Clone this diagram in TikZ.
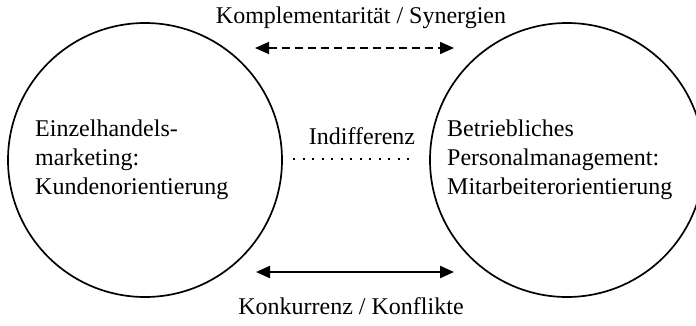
\documentclass[tikz,border=0pt]{standalone}
\usepackage{fontspec}
\setmainfont{Liberation Serif}
\usetikzlibrary{arrows.meta}
\begin{document}
\begin{tikzpicture}[x=1pt,y=-1pt,
  ring/.style={circle,draw,line width=1.7pt,minimum size=274pt,inner sep=0pt},
  lbl/.style={font=\fontsize{24}{29}\selectfont,inner sep=0pt,align=left},
  dbltip/.style={{Triangle[length=14pt,width=12pt]}-{Triangle[length=14pt,width=12pt]}}]
\useasboundingbox (0,0) rectangle (696,325);
\node[ring] (L) at (145,160) {};
\node[ring] (R) at (567,160) {};
\node[lbl,anchor=west] (Ltext) at (35,160) {Einzelhandels-\\marketing:\\Kundenorientierung};
\node[lbl,anchor=west] (Rtext) at (447,160) {Betriebliches\\Personalmanagement:\\Mitarbeiterorientierung};
\node[lbl] (top) at (361,18) {Komplementarität / Synergien};
\node[lbl] (mid) at (362,136) {Indifferenz};
\node[lbl] (bot) at (351,306) {Konkurrenz / Konflikte};
\coordinate (t1) at (255,48);
\coordinate (t2) at (454,48);
\coordinate (b1) at (256,272);
\coordinate (b2) at (454,272);
\coordinate (m1) at (293,159);
\coordinate (m2) at (416,159);
\draw[dbltip,line width=1.5pt,dash pattern=on 8pt off 5pt] (t1) -- (t2);
\draw[dbltip,line width=2.2pt] (b1) -- (b2);
\draw[line width=1.5pt,dash pattern=on 2pt off 7.5pt] (m1) -- (m2);
\end{tikzpicture}
\end{document}
